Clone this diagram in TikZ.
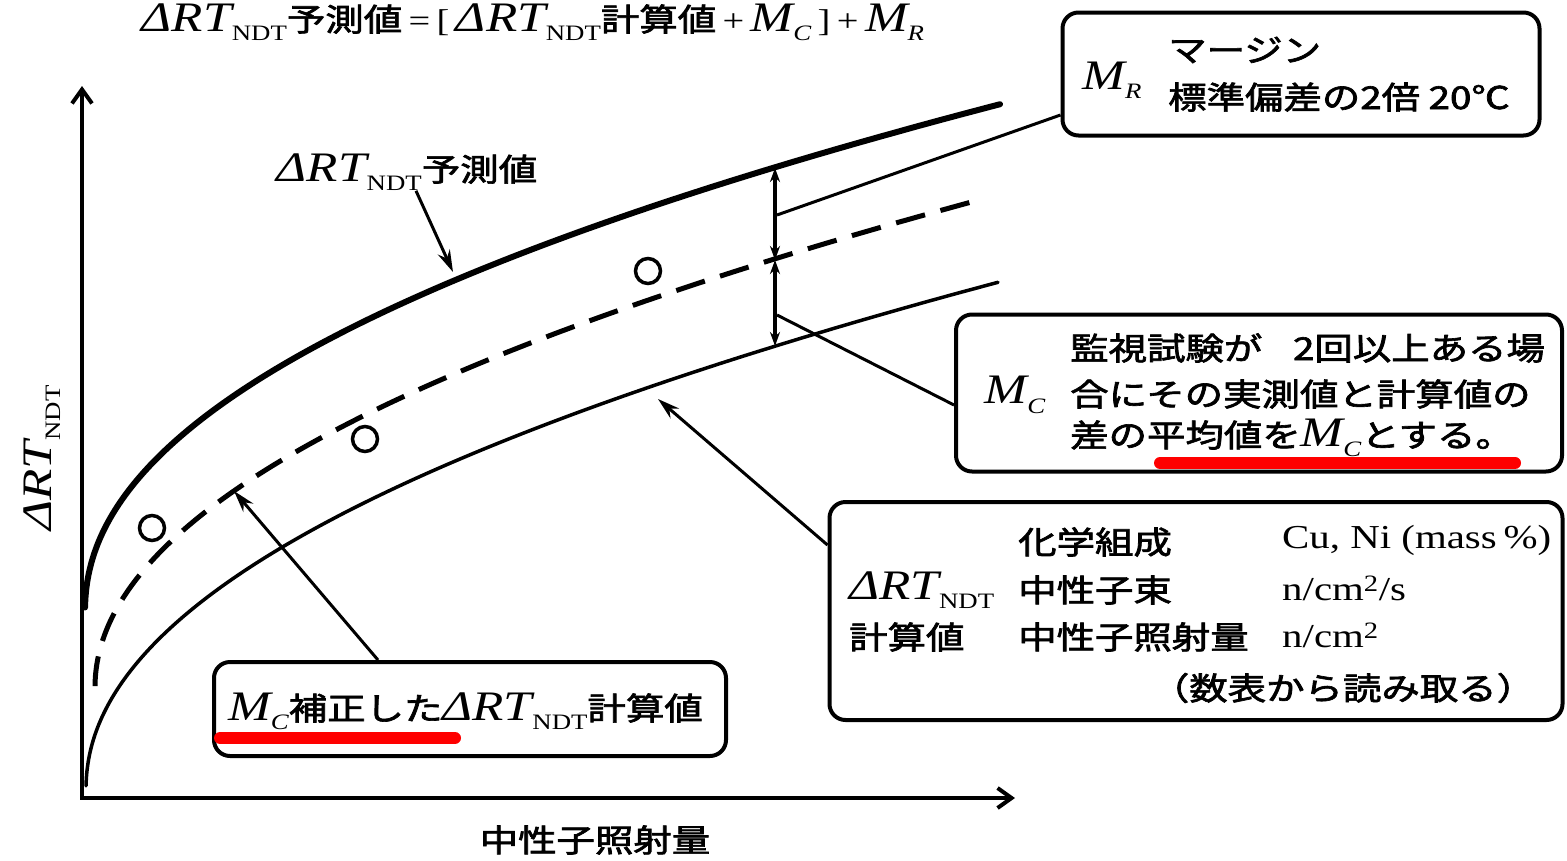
\documentclass[tikz,border=0pt]{standalone}
\usepackage{fontspec}
\setmainfont{Liberation Serif}
\newfontfamily\jp[FakeBold=2]{Noto Sans CJK JP}
\usetikzlibrary{arrows.meta,calc}
\newcommand\wide[1]{\scalebox{1.22}[1]{#1}}
\newcommand\mysub[1]{\raisebox{-0.3em}{\fontsize{22}{22}\selectfont #1}}
\newcommand\bigit[1]{{\fontsize{42}{42}\selectfont\itshape #1}}
\newcommand\myDRT{\bigit{ΔRT}\mysub{NDT}}
\newcommand\myMC{\bigit{M}\mysub{\itshape C}}
\newcommand\myMR{\bigit{M}\mysub{\itshape R}}
\tikzset{
  txt/.style={inner sep=0pt, font=\fontsize{31.5}{38}\selectfont},
  lat/.style={inner sep=0pt, font=\fontsize{33.5}{38}\selectfont},
  boxnode/.style={draw, line width=4pt, rounded corners=16pt, inner sep=0pt},
  axisline/.style={line width=4pt, {Straight Barb[length=14pt,width=20pt,line width=4pt]}-{Straight Barb[length=14pt,width=20pt,line width=4pt]}},
  predcurve/.style={line width=6pt, line cap=round},
  calccurve/.style={line width=3.5pt, line cap=round},
  corrcurve/.style={line width=5pt, dash pattern=on 30pt off 16pt},
  leader/.style={line width=3pt},
  leadarrow/.style={line width=3pt, -{Stealth[length=22pt,width=13pt]}},
  dblarrow/.style={line width=3.5pt, {Stealth[length=14pt,width=10pt]}-{Stealth[length=14pt,width=10pt]}},
  datapt/.style={circle, draw, line width=3.5pt, minimum size=25pt, inner sep=0pt},
  redline/.style={red, line width=12pt, line cap=round},
}
\begin{document}
\begin{tikzpicture}[x=1pt, y=-1pt]
\useasboundingbox (0,0) rectangle (1567,860);
\fill[white] (0,0) rectangle (1567,860);

% axes
\coordinate (O) at (82,798);
\coordinate (Ytop) at (82,86);
\coordinate (Xend) at (1015,798);
\draw[axisline] (Ytop) -- (O) -- (Xend);

% curves
\draw[predcurve] plot[domain=0.2:30.25, samples=150, smooth] ({85+\x*\x}, {612-20.6*(\x)^0.94});
\draw[calccurve] plot[domain=0.2:30.2, samples=150, smooth] ({86+\x*\x}, {790-19.27*(\x)^0.96});
\draw[corrcurve] plot[domain=0.1:29.66, samples=150, smooth] ({95+\x*\x}, {688-17.57*(\x)^0.98});

% data points
\node[datapt] (p1) at (152,528) {};
\node[datapt] (p2) at (365,439) {};
\node[datapt] (p3) at (648,271) {};

% vertical margin arrows
\coordinate (vtop) at (775,168);
\coordinate (vmid) at (775,260);
\coordinate (vbot) at (775,346);
\draw[dblarrow] (vtop) -- (vmid);
\draw[dblarrow] (vmid) -- (vbot);
\coordinate (mrA) at (777,215);
\coordinate (mcA) at (777,315);

% top formula
\node[txt] (formula) at (533,22) {\wide{\myDRT{\jp 予測値}\,=\,[\,\myDRT{\jp 計算値}\,+\,\myMC\,]\,+\,\myMR}};

% axis labels
\node[txt, rotate=90] (ylab) at (42,458) {\wide{\myDRT}};
\node[txt] (xlab) at (595,840) {\wide{\jp 中性子照射量}};

% prediction label
\node[txt] (predlbl) at (407,172) {\wide{\myDRT{\jp 予測値}}};
\coordinate (predtip) at (453,272);
\draw[leadarrow] ([xshift=9pt]predlbl.south) -- (predtip);

% MR box
\node[boxnode, minimum width=477pt, minimum height=123pt] (mrbox) at (1301,74) {};
\node[txt] (mrsym) at (1112,80) {\wide{\myMR}};
\node[txt, anchor=west] (mr1) at (1168,50) {\wide{\jp マージン}};
\node[txt, anchor=west] (mr2) at (1168,97) {\wide{\jp 標準偏差の2倍\ 20℃}};
\draw[leader] (mrA) -- ([yshift=-41pt]mrbox.west);

% MC box
\node[boxnode, minimum width=606pt, minimum height=157pt] (mcbox) at (1259,393) {};
\node[txt] (mcsym) at (1015,395) {\wide{\myMC}};
\node[txt, anchor=west] (mc1) at (1070,348) {\wide{\jp 監視試験が\hspace{0.8em}2回以上ある場}};
\node[txt, anchor=west] (mc2) at (1070,394) {\wide{\jp 合にその実測値と計算値の}};
\node[txt, anchor=west] (mc3) at (1070,438) {\wide{{\jp 差の平均値を}\myMC{\jp とする。}}};
\draw[redline] (1160,463) -- (1515,463);
\draw[leader] (mcA) -- ([yshift=-12pt]mcbox.west);

% calculation box
\node[boxnode, minimum width=733pt, minimum height=218pt] (calcbox) at (1196,611) {};
\node[txt, anchor=west] (c11) at (849,590) {\wide{\myDRT}};
\node[txt, anchor=west] (c12) at (849,637) {\wide{\jp 計算値}};
\node[txt, anchor=west] (c21) at (1018,542) {\wide{\jp 化学組成}};
\node[txt, anchor=west] (c22) at (1018,590) {\wide{\jp 中性子束}};
\node[txt, anchor=west] (c23) at (1018,637) {\wide{\jp 中性子照射量}};
\node[lat, anchor=west] (c31) at (1282,540) {\wide{Cu, Ni (mass\,\%)}};
\node[lat, anchor=west] (c32) at (1282,588) {\wide{n/cm\textsuperscript{2}/s}};
\node[lat, anchor=west] (c33) at (1282,635) {\wide{n/cm\textsuperscript{2}}};
\node[txt] (c4) at (1343,688) {\wide{\jp （数表から読み取る）}};
\coordinate (calctip) at (658,399);
\draw[leadarrow] ([yshift=66pt]calcbox.west) -- (calctip);

% corrected box
\node[boxnode, minimum width=512pt, minimum height=94pt] (corrbox) at (470,709) {};
\node[txt, anchor=west] (corrtxt) at (228,711) {\wide{\myMC{\jp 補正した}\myDRT{\jp 計算値}}};
\draw[redline] (220,738) -- (455,738);
\coordinate (corrtip) at (234,491);
\draw[leadarrow] ([xshift=-92pt]corrbox.north) -- (corrtip);
\end{tikzpicture}
\end{document}
